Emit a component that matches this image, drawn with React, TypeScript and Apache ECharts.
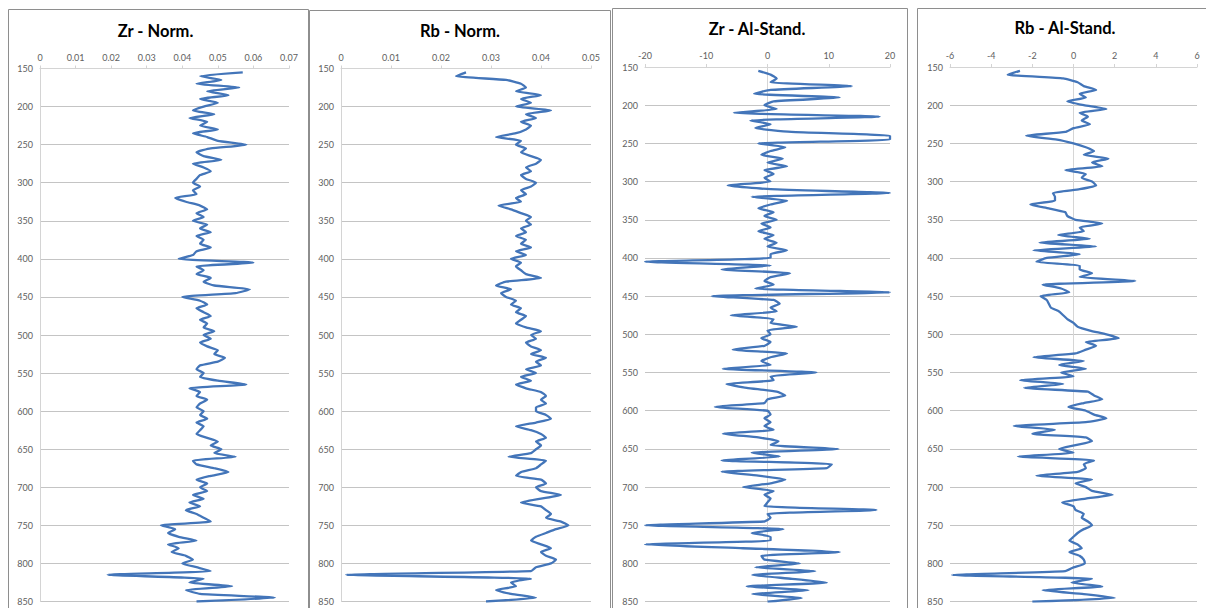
import React, { useEffect, useRef } from "react";
import * as echarts from "echarts";

// depth (y axis), 155 … 850
const DEPTH = [
  155, 160, 165, 170, 175, 180, 185, 190, 195, 200,
  205, 210, 215, 220, 225, 230, 235, 240, 245, 250,
  255, 260, 265, 270, 275, 280, 285, 290, 295, 300,
  305, 310, 315, 320, 325, 330, 335, 340, 345, 350,
  355, 360, 365, 370, 375, 380, 385, 390, 395, 400,
  405, 410, 415, 420, 425, 430, 435, 440, 445, 450,
  455, 460, 465, 470, 475, 480, 485, 490, 495, 500,
  505, 510, 515, 520, 525, 530, 535, 540, 545, 550,
  555, 560, 565, 570, 575, 580, 585, 590, 595, 600,
  605, 610, 615, 620, 625, 630, 635, 640, 645, 650,
  655, 660, 665, 670, 675, 680, 685, 690, 695, 700,
  705, 710, 715, 720, 725, 730, 735, 740, 745, 750,
  755, 760, 765, 770, 775, 780, 785, 790, 795, 800,
  805, 810, 815, 820, 825, 830, 835, 840, 845, 850,
];

const ZR_NORM = [
  0.057, 0.045, 0.051, 0.044, 0.056, 0.047, 0.053, 0.045, 0.050, 0.046,
  0.043, 0.049, 0.042, 0.047, 0.045, 0.050, 0.043, 0.047, 0.050, 0.058,
  0.048, 0.044, 0.046, 0.051, 0.043, 0.046, 0.048, 0.045, 0.044, 0.043,
  0.045, 0.043, 0.044, 0.038, 0.041, 0.045, 0.047, 0.044, 0.046, 0.043,
  0.047, 0.045, 0.048, 0.044, 0.046, 0.045, 0.048, 0.044, 0.043, 0.039,
  0.060, 0.044, 0.046, 0.044, 0.048, 0.046, 0.049, 0.059, 0.055, 0.040,
  0.045, 0.047, 0.044, 0.046, 0.048, 0.045, 0.047, 0.046, 0.049, 0.046,
  0.048, 0.045, 0.047, 0.050, 0.049, 0.052, 0.050, 0.045, 0.044, 0.046,
  0.045, 0.050, 0.058, 0.042, 0.045, 0.044, 0.047, 0.045, 0.044, 0.046,
  0.045, 0.047, 0.044, 0.046, 0.045, 0.044, 0.047, 0.050, 0.048, 0.051,
  0.049, 0.055, 0.043, 0.044, 0.049, 0.053, 0.048, 0.044, 0.047, 0.045,
  0.047, 0.043, 0.046, 0.042, 0.045, 0.041, 0.044, 0.046, 0.048, 0.034,
  0.038, 0.036, 0.039, 0.044, 0.036, 0.039, 0.037, 0.041, 0.043, 0.040,
  0.044, 0.048, 0.019, 0.046, 0.042, 0.054, 0.041, 0.045, 0.066, 0.044,
];

const RB_NORM = [
  0.025, 0.023, 0.033, 0.036, 0.037, 0.035, 0.040, 0.036, 0.038, 0.035,
  0.042, 0.037, 0.039, 0.036, 0.038, 0.037, 0.035, 0.031, 0.036, 0.035,
  0.037, 0.036, 0.038, 0.040, 0.039, 0.037, 0.038, 0.036, 0.037, 0.039,
  0.038, 0.036, 0.037, 0.035, 0.036, 0.0315, 0.034, 0.036, 0.038, 0.037,
  0.038, 0.036, 0.037, 0.035, 0.037, 0.036, 0.038, 0.035, 0.037, 0.034,
  0.036, 0.035, 0.036, 0.037, 0.040, 0.033, 0.031, 0.034, 0.032, 0.033,
  0.035, 0.034, 0.036, 0.035, 0.037, 0.036, 0.035, 0.037, 0.040, 0.038,
  0.039, 0.037, 0.038, 0.040, 0.038, 0.041, 0.039, 0.040, 0.037, 0.039,
  0.036, 0.038, 0.035, 0.037, 0.040, 0.041, 0.040, 0.041, 0.039, 0.039,
  0.041, 0.042, 0.039, 0.035, 0.038, 0.040, 0.041, 0.039, 0.040, 0.039,
  0.038, 0.0335, 0.041, 0.040, 0.039, 0.036, 0.035, 0.040, 0.041, 0.039,
  0.040, 0.044, 0.040, 0.036, 0.040, 0.041, 0.042, 0.041, 0.044, 0.0455,
  0.043, 0.041, 0.039, 0.038, 0.040, 0.042, 0.040, 0.041, 0.043, 0.042,
  0.039, 0.038, 0.001, 0.038, 0.034, 0.035, 0.031, 0.034, 0.039, 0.029,
];

const ZR_AL = [
  -1.5, 0.5, 1.5, 0.5, 13.8, 0.5, -2.2, 11.8, 1.0, -0.5,
  1.5, -5.5, 18.3, -2.8, 0.5, -2.0, 3.9, 20, 20, -1.5,
  2.9, 0.5, -1.0, 2.5, 0.0, 3.2, -0.5, 1.0, -0.5, 0.5,
  -6.5, 0.5, 20, -2.6, 3.2, 0.5, -1.5, 1.0, -0.5, 1.5,
  -1.0, 0.5, -1.5, 1.0, -0.5, 1.5, 0.0, 3.2, 0.5, 0.5,
  -20, 0.5, -7.5, 3.7, 0.5, -0.5, 1.0, -2.0, 20, -9.1,
  1.0, 2.0, 0.5, 1.5, -6.0, 1.0, 0.5, 4.8, 0.0, 0.5,
  -1.0, 0.5, -0.5, -5.7, 3.2, 0.5, -1.0, 0.5, -7.3, 8.0,
  0.5, 1.0, -6.7, -3.4, 1.5, 2.9, 0.0, -0.5, -8.6, 0.0,
  0.5, -0.5, 0.5, -0.5, 1.0, -7.3, -1.5, 1.8, 0.5, 11.6,
  -2.6, 2.0, -7.5, 10.5, 9.7, -7.5, -1.5, 2.9, 0.5, -4.0,
  1.0, -0.5, 0.5, 0.0, -0.5, 17.8, 0.0, 0.5, -0.5, -20,
  2.6, -2.6, 0.5, 0.5, -20, -4.0, 11.8, -1.0, -0.5, 5.3,
  -2.0, 7.8, -2.5, 4.0, 9.7, -3.4, 6.7, -2.5, 5.6, 0.0,
];

const RB_AL = [
  -2.6, -3.2, -0.5, 0.2, 0.5, 1.1, 0.3, 0.6, -0.3, 0.5,
  1.6, 0.3, 0.7, 0.4, 0.8, 0.0, -0.4, -2.3, -0.8, 0.0,
  0.6, 1.0, 0.5, 1.7, 0.9, 1.4, -0.4, 0.6, 0.4, 0.9,
  1.1, 0.3, -1.0, -0.9, -0.9, -2.1, -1.2, -0.4, -0.3, 0.1,
  1.4, 0.3, 0.5, -0.75, 0.8, -1.65, 1.1, -1.95, 0.3, -1.3,
  -1.8, 0.3, 0.3, 0.9, 0.3, 3.0, -1.5, -0.6, -0.2, -1.6,
  -1.3, -1.2, -1.1, -0.7, -0.5, -0.3, 0.0, 0.2, 0.8, 1.6,
  2.2, 0.6, 1.1, 0.6, 0.1, -1.95, 0.5, -0.7, 0.6, -0.6,
  0.0, -2.6, -0.5, -2.4, 0.7, 1.0, 1.4, 0.5, -0.25, 0.6,
  1.0, 1.6, 0.6, -2.9, -0.9, -2.0, 0.6, 0.9, 0.1, -0.7,
  0.0, -2.7, 1.0, 0.5, 0.6, 0.2, -1.8, 0.9, 0.1, 0.6,
  0.9, 1.9, 0.6, -0.55, 0.0, 0.1, 0.5, 0.4, 0.7, 0.9,
  0.5, 0.2, 0.0, -0.2, 0.2, 0.4, -0.2, 0.3, 0.5, 0.55,
  0.0, -0.4, -5.9, 0.9, -0.1, 1.4, -1.5, 0.5, 2.0, -2.0,
];

const TITLES = ["Zr - Norm.", "Rb - Norm.", "Zr - Al-Stand.", "Rb - Al-Stand."];
const X_MIN = [0, 0, -20, -6];
const X_MAX = [0.07, 0.05, 20, 6];
const X_STEP = [0.01, 0.01, 10, 2];
const Y_MIN = 150;
const Y_MAX = 850;
const Y_STEP = 50;

const LINE_COLOR = "#4375b9";
const FONT = "Lato, 'Open Sans', sans-serif";

export default function App() {
  const ref = useRef<HTMLDivElement>(null);

  useEffect(() => {
    if (!ref.current) return;
    const chart = echarts.init(ref.current, null, { renderer: "svg" });
    const seriesValues = [ZR_NORM, RB_NORM, ZR_AL, RB_AL];

    const layout = [
      { grid: { left: 40, top: 68.5, width: 249, height: 533 }, tx: 155.5, ty: 31, box: [8.5, 9.5, 300, 640] },
      { grid: { left: 341, top: 68.5, width: 250, height: 533 }, tx: 460, ty: 31, box: [309.5, 10.5, 301, 640] },
      { grid: { left: 645, top: 67, width: 245, height: 534.7 }, tx: 757, ty: 29, box: [612.5, 8.5, 295, 640] },
      { grid: { left: 950, top: 67, width: 247, height: 534.7 }, tx: 1065, ty: 28, box: [917.5, 8.5, 320, 640] },
    ];

    const graphic: any[] = [];
    layout.forEach((l, i) => {
      graphic.push({
        type: "rect",
        shape: { x: l.box[0], y: l.box[1], width: l.box[2], height: l.box[3] },
        style: { fill: "none", stroke: "#8e8e8e", lineWidth: 1 },
        silent: true,
        z: 0,
      });
      graphic.push({
        type: "text",
        x: l.tx,
        y: l.ty,
        style: {
          text: TITLES[i],
          fill: "#000",
          font: `bold 16.5px ${FONT}`,
          align: "center",
          verticalAlign: "middle",
        },
        silent: true,
        z: 10,
      });
    });

    const option: any = {
      animation: false,
      backgroundColor: "#ffffff",
      grid: layout.map((l) => ({ ...l.grid, containLabel: false })),
      xAxis: layout.map((_, i) => ({
        type: "value",
        gridIndex: i,
        position: "top",
        min: X_MIN[i],
        max: X_MAX[i],
        interval: X_STEP[i],
        axisLine: { show: true, onZero: false, lineStyle: { color: "#d4d4d4", width: 1 } },
        axisTick: { show: true, length: 3, inside: false, lineStyle: { color: "#d4d4d4" } },
        axisLabel: { color: "#606060", fontSize: 9, fontFamily: FONT, margin: 7 },
        splitLine: { show: false },
      })),
      yAxis: layout.map((_, i) => ({
        type: "value",
        gridIndex: i,
        inverse: true,
        min: Y_MIN,
        max: Y_MAX,
        interval: Y_STEP,
        axisLine: { show: i < 2, onZero: false, lineStyle: { color: "#d4d4d4" } },
        axisTick: { show: false },
        axisLabel: { color: "#606060", fontSize: 9, fontFamily: FONT, margin: 7 },
        splitLine: { show: true, lineStyle: { color: "#c4c4c4", width: 1 } },
      })),
      series: seriesValues.map((vals, i) => ({
        type: "line",
        xAxisIndex: i,
        yAxisIndex: i,
        data: DEPTH.map((d, k) => [vals[k], d]),
        showSymbol: false,
        smooth: 0.15,
        lineStyle: { color: LINE_COLOR, width: 2.3 },
        itemStyle: { color: LINE_COLOR },
        z: 5,
        markLine:
          i >= 2
            ? {
                silent: true,
                symbol: "none",
                label: { show: false },
                lineStyle: { color: "#d6d6d6", width: 1, type: "solid" },
                data: [[{ coord: [0, Y_MIN] }, { coord: [0, Y_MAX] }]],
                z: 1,
              }
            : undefined,
      })),
      graphic,
    };

    chart.setOption(option);
    return () => chart.dispose();
  }, []);

  return (
    <div
      ref={ref}
      style={{ position: "fixed", left: 0, top: 0, width: 1206, height: 608, background: "#fff" }}
    />
  );
}
